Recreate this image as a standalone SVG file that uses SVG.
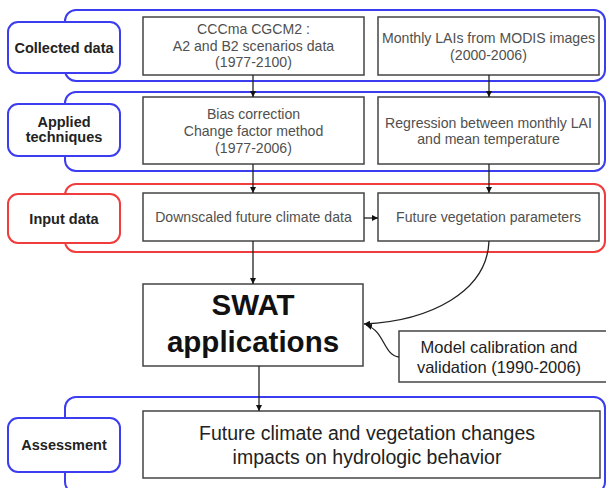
<svg xmlns="http://www.w3.org/2000/svg" width="606" height="488" viewBox="0 0 606 488">
<defs>
<marker id="ah" viewBox="0 0 10 10" refX="10" refY="5" markerWidth="6" markerHeight="6" markerUnits="userSpaceOnUse" orient="auto">
<path d="M0,0 L10,5 L0,10 z" fill="#111"/>
</marker>
<style>
.band-b{fill:none;stroke:#3c3cf0;stroke-width:2}
.band-r{fill:none;stroke:#f03c3c;stroke-width:2}
.lab-b{fill:#fff;stroke:#3c3cf0;stroke-width:2}
.lab-r{fill:#fff;stroke:#f03c3c;stroke-width:2}
.node{fill:#fff;stroke:#444;stroke-width:1.5}
.lt{font-family:"Liberation Sans",Arial,sans-serif;font-weight:bold;font-size:14.5px;fill:#222;text-anchor:middle}
.nt{font-family:"Liberation Sans",Arial,sans-serif;font-size:14.1px;fill:#505050;text-anchor:middle}
.conn{fill:none;stroke:#222;stroke-width:1.3;marker-end:url(#ah)}
</style>
</defs>
<rect width="606" height="488" fill="#fff"/>
<g id="bands">
<rect class="band-b" x="65" y="10" width="540" height="71" rx="11"/>
<rect class="band-b" x="65" y="92" width="540" height="79" rx="11"/>
<rect class="band-r" x="65" y="184" width="540" height="68" rx="11"/>
<rect class="band-b" x="65" y="397" width="540" height="96" rx="11"/>
</g>
<g id="label-collected">
<rect class="lab-b" x="8" y="22" width="112" height="51" rx="10"/>
<text class="lt" x="64" y="53">Collected data</text>
</g>
<g id="label-applied">
<rect class="lab-b" x="8" y="104" width="112" height="52" rx="10"/>
<text class="lt" x="64" y="127">Applied</text>
<text class="lt" x="64" y="142">techniques</text>
</g>
<g id="label-input">
<rect class="lab-r" x="8" y="194" width="112" height="49" rx="10"/>
<text class="lt" x="64" y="224">Input data</text>
</g>
<g id="label-assessment">
<rect class="lab-b" x="8" y="418" width="112" height="54" rx="10"/>
<text class="lt" x="64" y="450">Assessment</text>
</g>
<g id="node-cccma">
<rect class="node" x="143" y="17" width="221" height="58"/>
<text class="nt" x="253.5" y="34">CCCma CGCM2 :</text>
<text class="nt" x="253.5" y="51">A2 and B2 scenarios data</text>
<text class="nt" x="253.5" y="67">(1977-2100)</text>
</g>
<g id="node-modis">
<rect class="node" x="378" y="17" width="221" height="58"/>
<text class="nt" x="488.5" y="43">Monthly LAIs from MODIS images</text>
<text class="nt" x="488.5" y="60">(2000-2006)</text>
</g>
<g id="node-bias">
<rect class="node" x="143" y="97" width="221" height="67"/>
<text class="nt" x="253.5" y="119">Bias correction</text>
<text class="nt" x="253.5" y="136">Change factor method</text>
<text class="nt" x="253.5" y="153">(1977-2006)</text>
</g>
<g id="node-regression">
<rect class="node" x="378" y="97" width="221" height="67"/>
<text class="nt" x="488.5" y="128">Regression between monthly LAI</text>
<text class="nt" x="488.5" y="144">and mean temperature</text>
</g>
<g id="node-downscaled">
<rect class="node" x="143" y="193" width="221" height="48"/>
<text class="nt" x="253.5" y="222">Downscaled future climate data</text>
</g>
<g id="node-vegetation">
<rect class="node" x="378" y="193" width="221" height="48"/>
<text class="nt" x="488.5" y="222">Future vegetation parameters</text>
</g>
<g id="node-swat">
<rect class="node" x="143" y="284" width="220" height="82"/>
<text font-family="Liberation Sans, Arial, sans-serif" font-weight="bold" font-size="29.5" fill="#111" text-anchor="middle" x="253" y="315">SWAT</text>
<text font-family="Liberation Sans, Arial, sans-serif" font-weight="bold" font-size="29.5" fill="#111" text-anchor="middle" x="253" y="352">applications</text>
</g>
<g id="node-calibration">
<rect class="node" x="399" y="331" width="210" height="51"/>
<text font-family="Liberation Sans, Arial, sans-serif" font-size="16.5" fill="#222" text-anchor="middle" x="499" y="353">Model calibration and</text>
<text font-family="Liberation Sans, Arial, sans-serif" font-size="16.5" fill="#222" text-anchor="middle" x="499" y="373">validation (1990-2006)</text>
</g>
<g id="node-impacts">
<rect class="node" x="143" y="411" width="457" height="67"/>
<text font-family="Liberation Sans, Arial, sans-serif" font-size="19.5" fill="#222" text-anchor="middle" x="367" y="440">Future climate and vegetation changes</text>
<text font-family="Liberation Sans, Arial, sans-serif" font-size="19.5" fill="#222" text-anchor="middle" x="367" y="464">impacts on hydrologic behavior</text>
</g>
<g id="connectors">
<line class="conn" x1="253" y1="75" x2="253" y2="97"/>
<line class="conn" x1="489" y1="75" x2="489" y2="97"/>
<line class="conn" x1="253" y1="164" x2="253" y2="193"/>
<line class="conn" x1="489" y1="164" x2="489" y2="193"/>
<line class="conn" x1="364" y1="218" x2="378" y2="218"/>
<line class="conn" x1="253" y1="241" x2="253" y2="284"/>
<line class="conn" x1="259" y1="366" x2="259" y2="411"/>
<path class="conn" d="M489,241 C487,292 430,321 364,324"/>
<path class="conn" d="M399,357 C383,355 385,331 366,325"/>
</g>
</svg>
